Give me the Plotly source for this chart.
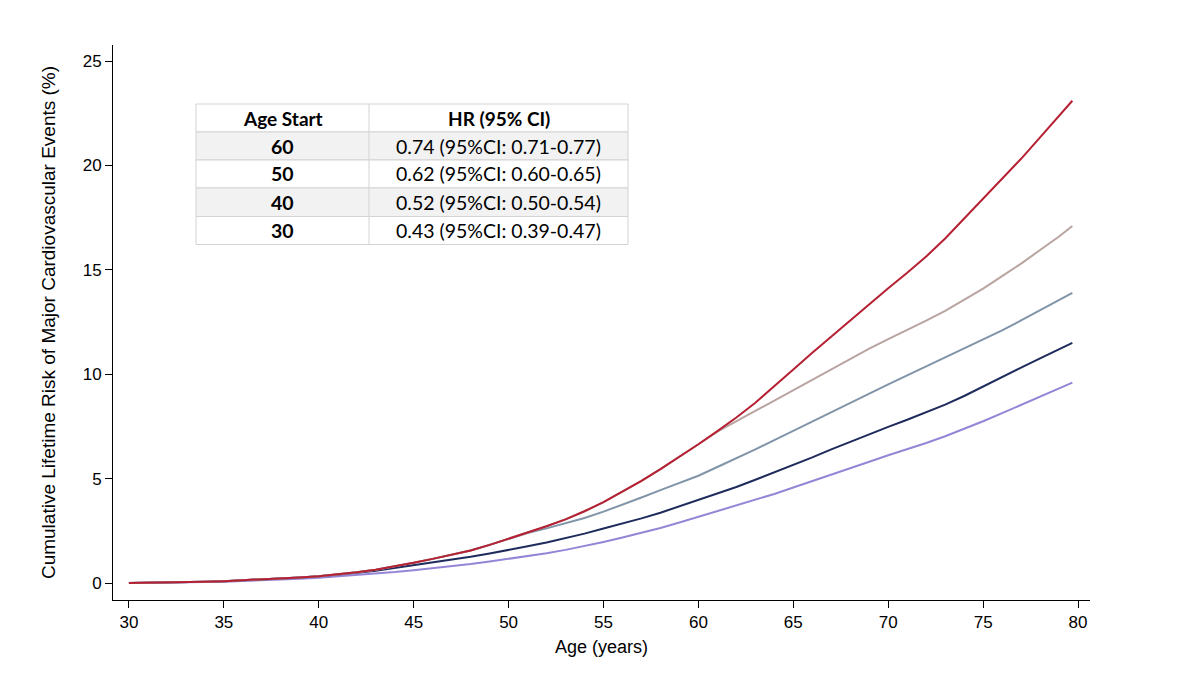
import plotly.graph_objects as go

# ---------------- data ----------------
ages = [30, 31, 32, 33, 34, 35, 36, 37, 38, 39, 40, 41, 42, 43, 44, 45, 46, 47, 48, 49,
        50, 51, 52, 53, 54, 55, 56, 57, 58, 59, 60, 61, 62, 63, 64, 65, 66, 67, 68, 69,
        70, 71, 72, 73, 74, 75, 76, 77, 78, 79, 79.7]

risk_none = [0, 0.01, 0.02, 0.04, 0.06, 0.09, 0.13, 0.17, 0.22, 0.27,
             0.33, 0.42, 0.52, 0.64, 0.8, 0.97, 1.16, 1.35, 1.56, 1.83,
             2.12, 2.42, 2.72, 3.05, 3.44, 3.88, 4.37, 4.9, 5.46, 6.04,
             6.65, 7.28, 7.93, 8.64, 9.42, 10.23, 11.03, 11.8, 12.6, 13.38,
             14.12, 14.86, 15.64, 16.5, 17.45, 18.4, 19.35, 20.32, 21.35, 22.4, 23.1]
risk_start60 = [0, 0.01, 0.02, 0.04, 0.06, 0.09, 0.13, 0.17, 0.22, 0.27,
                0.33, 0.42, 0.52, 0.64, 0.8, 0.97, 1.16, 1.35, 1.56, 1.83,
                2.12, 2.42, 2.72, 3.05, 3.44, 3.88, 4.37, 4.9, 5.46, 6.04,
                6.65, 7.25, 7.75, 8.25, 8.76, 9.27, 9.77, 10.27, 10.76, 11.23,
                11.68, 12.12, 12.57, 13.04, 13.55, 14.1, 14.7, 15.3, 15.95, 16.6, 17.1]
risk_start50 = [0, 0.01, 0.02, 0.04, 0.06, 0.09, 0.13, 0.17, 0.22, 0.27,
                0.33, 0.42, 0.52, 0.64, 0.8, 0.97, 1.16, 1.35, 1.56, 1.83,
                2.12, 2.4, 2.62, 2.86, 3.12, 3.42, 3.75, 4.1, 4.45, 4.78,
                5.14, 5.56, 5.97, 6.4, 6.85, 7.3, 7.74, 8.19, 8.64, 9.08,
                9.52, 9.95, 10.38, 10.81, 11.23, 11.65, 12.1, 12.58, 13.08, 13.58, 13.9]
risk_start40 = [0, 0.01, 0.02, 0.04, 0.06, 0.09, 0.13, 0.17, 0.22, 0.27,
                0.33, 0.4, 0.49, 0.59, 0.72, 0.85, 0.97, 1.1, 1.26, 1.42,
                1.58, 1.76, 1.94, 2.14, 2.37, 2.61, 2.85, 3.1, 3.37, 3.67,
                3.98, 4.28, 4.6, 4.95, 5.3, 5.65, 6.02, 6.4, 6.77, 7.13,
                7.48, 7.82, 8.17, 8.55, 8.96, 9.42, 9.88, 10.32, 10.76, 11.2, 11.5]
risk_start30 = [0, 0.01, 0.02, 0.03, 0.05, 0.07, 0.1, 0.13, 0.17, 0.21,
                0.26, 0.32, 0.38, 0.45, 0.53, 0.62, 0.71, 0.81, 0.91, 1.03,
                1.16, 1.29, 1.43, 1.59, 1.77, 1.97, 2.18, 2.4, 2.64, 2.9,
                3.17, 3.43, 3.7, 3.98, 4.27, 4.58, 4.88, 5.18, 5.49, 5.81,
                6.12, 6.41, 6.71, 7.03, 7.38, 7.75, 8.14, 8.53, 8.92, 9.3, 9.6]

table_header = ["Age Start", "HR (95% CI)"]
table_age_start = ["60", "50", "40", "30"]
table_hr = ["0.74 (95%CI: 0.71-0.77)", "0.62 (95%CI: 0.60-0.65)",
            "0.52 (95%CI: 0.50-0.54)", "0.43 (95%CI: 0.39-0.47)"]

x_ticks = [30, 35, 40, 45, 50, 55, 60, 65, 70, 75, 80]
y_ticks = [0, 5, 10, 15, 20, 25]

# ---------------- styling ----------------
series = [
    ("Start 30", risk_start30, "#9485d6"),
    ("Start 40", risk_start40, "#1e2b5c"),
    ("Start 50", risk_start50, "#8195a9"),
    ("Start 60", risk_start60, "#b9a4a1"),
    ("No treatment", risk_none, "#b52033"),
]

fig = go.Figure()
for name, vals, col in series:
    fig.add_trace(go.Scatter(x=ages, y=vals, mode="lines", name=name,
                             line=dict(color=col, width=2),
                             showlegend=False, hoverinfo="x+y"))

# table drawn with shapes + annotations (page-pixel layout -> paper coords)
PL, PR, PT, PB = 113, 1090, 45, 600   # plot area in page pixels


def px(xp):
    return (xp - PL) / (PR - PL)


def py(yp):
    return (PB - yp) / (PB - PT)


tab_left, tab_split, tab_right = 196, 369, 628
row_edges = [104, 132, 160, 188, 216.5, 244.5]
row_fills = ["white", "#f2f2f2", "white", "#f2f2f2", "white"]
border = "#d3d3d3"
tfont = "Lato, Noto Sans, sans-serif"

shapes = []
annotations = []
for i in range(5):
    shapes.append(dict(type="rect", xref="paper", yref="paper",
                       x0=px(tab_left), x1=px(tab_right),
                       y0=py(row_edges[i + 1]), y1=py(row_edges[i]),
                       fillcolor=row_fills[i], line=dict(color=border, width=1),
                       layer="above"))
shapes.append(dict(type="line", xref="paper", yref="paper",
                   x0=px(tab_split), x1=px(tab_split),
                   y0=py(row_edges[-1]), y1=py(row_edges[0]),
                   line=dict(color=border, width=1), layer="above"))

col_centers = [(tab_left + tab_split) / 2, (tab_split + tab_right) / 2]
rows = [[f"<b>{table_header[0]}</b>", f"<b>{table_header[1]}</b>"]]
rows += [[f"<b>{a}</b>", h] for a, h in zip(table_age_start, table_hr)]
for i, row in enumerate(rows):
    yc = (row_edges[i] + row_edges[i + 1]) / 2
    for j, txt in enumerate(row):
        annotations.append(dict(x=px(col_centers[j]), y=py(yc), xref="paper", yref="paper",
                                text=txt, showarrow=False, xanchor="center", yanchor="middle",
                                font=dict(family=tfont, size=19 if i == 0 else 19.5, color="black")))

tick_font = dict(family="Liberation Sans, Arial, sans-serif", size=17, color="black")
fig.update_layout(
    width=1200, height=699,
    margin=dict(l=105, r=118, t=37, b=107),
    plot_bgcolor="white", paper_bgcolor="white",
    shapes=shapes, annotations=annotations,
    xaxis=dict(range=[29.16, 80.63], tickvals=x_ticks, ticks="outside", ticklen=7,
               tickcolor="black", showline=True, linecolor="black", linewidth=1,
               showgrid=False, zeroline=False, tickfont=tick_font,
               title=dict(text="Age (years)",
                          font=dict(family="Liberation Sans, Arial, sans-serif", size=18, color="black"),
                          standoff=8)),
    yaxis=dict(range=[-0.81, 25.77], tickvals=y_ticks, ticks="outside", ticklen=7,
               tickcolor="black", showline=True, linecolor="black", linewidth=1,
               showgrid=False, zeroline=False, tickfont=tick_font,
               title=dict(text="Cumulative Lifetime Risk of Major Cardiovascular Events (%)",
                          font=dict(family="Liberation Sans, Arial, sans-serif", size=19, color="black"),
                          standoff=22)),
)

fig.write_html("out.html")
